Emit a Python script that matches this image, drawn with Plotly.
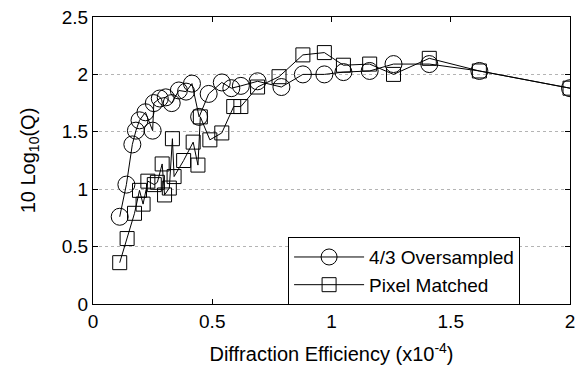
import plotly.graph_objects as go

# 4/3 Oversampled
over_x = [0.112, 0.14, 0.165, 0.18, 0.195, 0.22, 0.25, 0.255, 0.28, 0.305, 0.33, 0.36, 0.39,
          0.415, 0.445, 0.485, 0.54, 0.58, 0.62, 0.69, 0.79, 0.88, 0.97, 1.05, 1.16, 1.26,
          1.41, 1.62, 2.0]
over_y = [0.76, 1.04, 1.39, 1.51, 1.60, 1.67, 1.51, 1.75, 1.79, 1.80, 1.75, 1.86, 1.85,
          1.92, 1.63, 1.83, 1.93, 1.88, 1.90, 1.94, 1.89, 2.00, 2.00, 2.02, 2.03, 2.09,
          2.09, 2.03, 1.88]

# Pixel Matched
pix_x = [0.112, 0.143, 0.174, 0.195, 0.21, 0.23, 0.257, 0.27, 0.29, 0.30, 0.32, 0.333, 0.34,
         0.38, 0.42, 0.44, 0.45, 0.49, 0.54, 0.59, 0.62, 0.69, 0.78, 0.88, 0.97, 1.05,
         1.16, 1.26, 1.41, 1.62, 2.0]
pix_y = [0.36, 0.57, 0.79, 0.99, 0.87, 1.07, 1.04, 1.06, 1.22, 0.95, 1.01, 1.44, 1.11,
         1.25, 1.41, 1.21, 1.63, 1.43, 1.49, 1.72, 1.72, 1.89, 1.98, 2.17, 2.19, 2.08,
         2.09, 2.00, 2.14, 2.03, 1.88]

x_ticks = [0, 0.5, 1, 1.5, 2]
x_tick_text = ["0", "0.5", "1", "1.5", "2"]
y_ticks = [0, 0.5, 1, 1.5, 2, 2.5]
y_tick_text = ["0", "0.5", "1", "1.5", "2", "2.5"]

FONT = "Liberation Sans, Arial, sans-serif"

fig = go.Figure()
fig.add_trace(go.Scatter(
    x=over_x, y=over_y, mode="lines+markers", name="4/3 Oversampled",
    line=dict(color="black", width=1),
    marker=dict(symbol="circle-open", size=17, color="black", line=dict(width=1, color="black")),
))
fig.add_trace(go.Scatter(
    x=pix_x, y=pix_y, mode="lines+markers", name="Pixel Matched",
    line=dict(color="black", width=1),
    marker=dict(symbol="square-open", size=14, color="black", line=dict(width=1, color="black")),
))

fig.update_layout(
    width=581, height=371,
    margin=dict(l=93, r=6, t=17, b=67),
    paper_bgcolor="white", plot_bgcolor="white",
    font=dict(family=FONT, size=19, color="black"),
    showlegend=True,
    legend=dict(
        x=0.409, y=0.233, xanchor="left", yanchor="top",
        bgcolor="white", bordercolor="black", borderwidth=1,
        font=dict(family=FONT, size=19, color="black"),
        itemwidth=70, tracegroupgap=0,
    ),
    xaxis=dict(
        range=[0, 2], tickvals=x_ticks, ticktext=x_tick_text,
        showline=True, linecolor="black", linewidth=1, mirror="ticks",
        ticks="inside", ticklen=5, tickcolor="black",
        showgrid=False, zeroline=False,
        tickfont=dict(size=19),
        title=dict(text="Diffraction Efficiency (x10<sup>-4</sup>)", font=dict(size=20), standoff=16),
    ),
    yaxis=dict(
        range=[0, 2.5], tickvals=y_ticks, ticktext=y_tick_text,
        showline=True, linecolor="black", linewidth=1, mirror="ticks",
        ticks="inside", ticklen=5, tickcolor="black",
        showgrid=True, gridcolor="#b4b4b4", gridwidth=1, griddash="dot",
        zeroline=False,
        tickfont=dict(size=19),
        title=dict(text="10 Log<sub>10</sub>(Q)", font=dict(size=20), standoff=20),
    ),
)

fig.write_html("out.html")
